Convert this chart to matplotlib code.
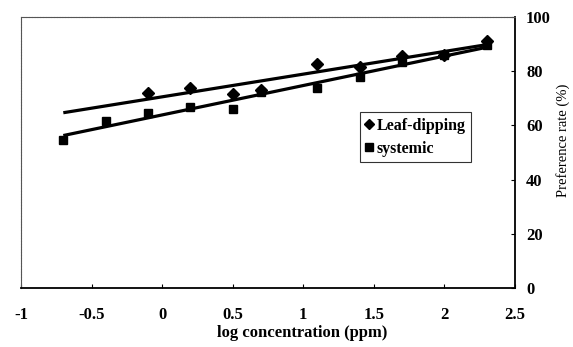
import numpy as np
import matplotlib
matplotlib.use('Agg')
import matplotlib.pyplot as plt

plt.rcParams['font.family'] = ['Liberation Serif', 'DejaVu Serif']

# log concentration (ppm)
x_leaf = [-0.1, 0.2, 0.5, 0.7, 1.1, 1.4, 1.7, 2.0, 2.3]
y_leaf = [71.8, 73.7, 71.5, 73.0, 82.7, 81.7, 85.5, 86.0, 91.0]

x_sys = [-0.7, -0.4, -0.1, 0.2, 0.5, 0.7, 1.1, 1.4, 1.7, 2.0, 2.3]
y_sys = [54.6, 61.6, 64.7, 66.9, 65.9, 72.5, 73.7, 78.0, 83.5, 86.0, 89.5]

fit_range = [-0.7, 2.3]

xticks = [-1, -0.5, 0, 0.5, 1, 1.5, 2, 2.5]
xticklabels = ['-1', '-0.5', '0', '0.5', '1', '1.5', '2', '2.5']
yticks = [0, 20, 40, 60, 80, 100]

fig = plt.figure(figsize=(5.73, 3.47), dpi=100)
ax = fig.add_axes([0.0366, 0.170, 0.862, 0.781])

# linear trend lines
xf = np.array(fit_range)
k1, b1 = np.polyfit(x_leaf, y_leaf, 1)
k2, b2 = np.polyfit(x_sys, y_sys, 1)
ax.plot(xf, k1 * xf + b1, color='black', lw=2.3, solid_capstyle='butt')
ax.plot(xf, k2 * xf + b2, color='black', lw=2.3, solid_capstyle='butt')

ax.plot(x_leaf, y_leaf, 'D', color='black', ms=6, label='Leaf-dipping', clip_on=False)
ax.plot(x_sys, y_sys, 's', color='black', ms=6, label='systemic', clip_on=False)

ax.set_xlim(-1, 2.5)
ax.set_ylim(0, 100)
ax.set_xticks(xticks)
ax.set_xticklabels(xticklabels)
ax.set_yticks(yticks)
ax.yaxis.tick_right()
ax.yaxis.set_label_position('right')
ax.tick_params(axis='both', direction='in', length=3, width=0.8, labelsize=12)
ax.tick_params(axis='x', pad=14)
ax.tick_params(axis='y', pad=8)
for lab in ax.get_xticklabels() + ax.get_yticklabels():
    lab.set_fontweight('bold')

for side in ['left', 'top']:
    ax.spines[side].set_color('#555555')
    ax.spines[side].set_linewidth(0.8)
    ax.spines[side].set_linestyle((0, (2, 0.5)))
for side in ['right', 'bottom']:
    ax.spines[side].set_color('black')
    ax.spines[side].set_linewidth(1.3)

ax.set_xlabel('log concentration (ppm)', fontsize=12, fontweight='bold')
ax.xaxis.set_label_coords(0.569, -0.137)
ax.set_ylabel('Preference rate (%)', fontsize=10.5, va='center')
ax.yaxis.set_label_coords(1.097, 0.546)

leg = ax.legend(loc='upper left', bbox_to_anchor=(0.686, 0.649), frameon=True,
                fancybox=False, edgecolor='black', handlelength=0.5,
                handletextpad=0.2, borderpad=0.35, labelspacing=0.45,
                borderaxespad=0, prop={'size': 11.5, 'weight': 'bold'},
                markerscale=0.9)
leg.get_frame().set_linewidth(0.8)

fig.savefig('out.png', dpi=100)
